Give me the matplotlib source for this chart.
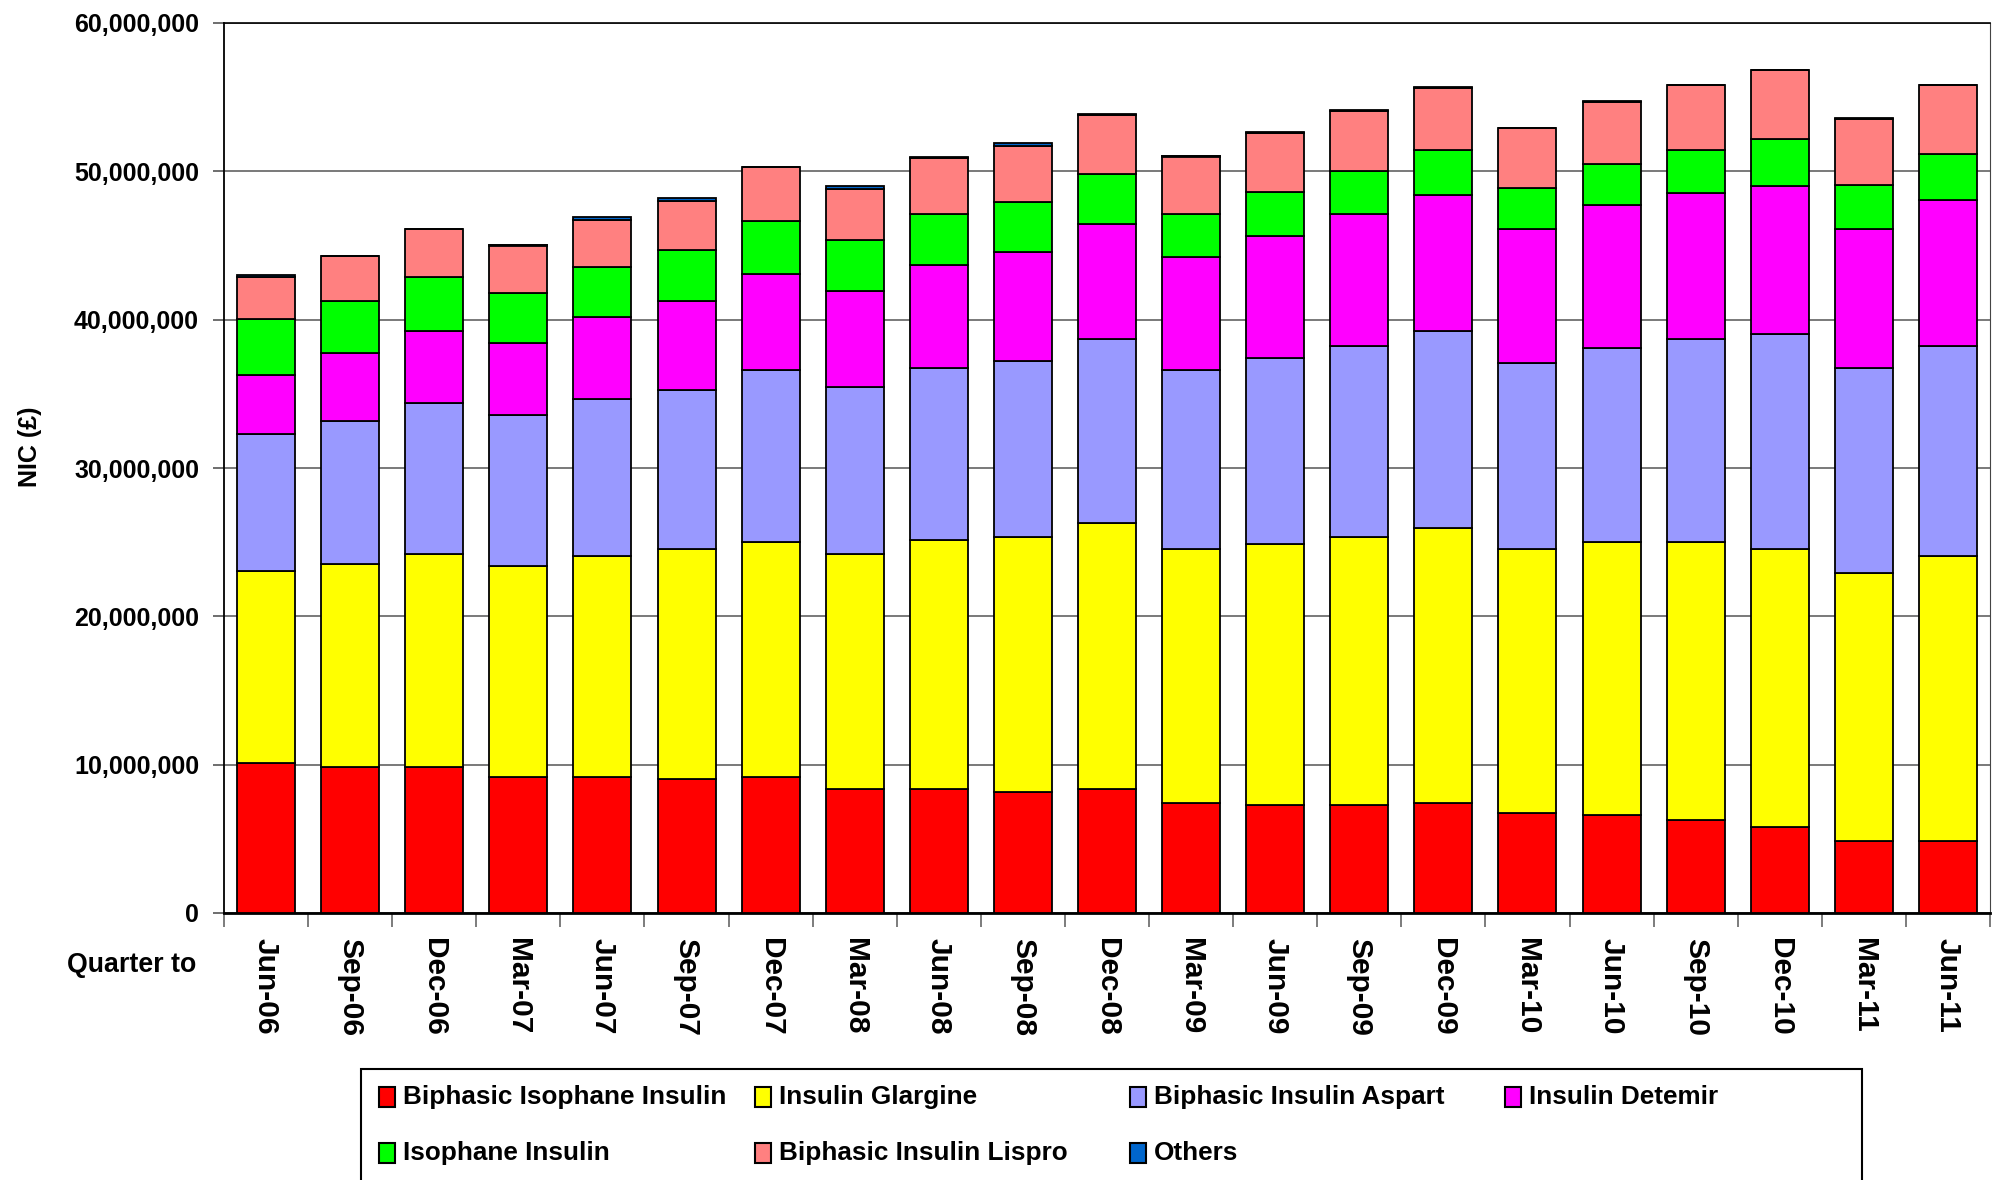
import numpy as np
import matplotlib
matplotlib.use("Agg")
import matplotlib.pyplot as plt
from matplotlib.patches import Rectangle
from matplotlib.ticker import FuncFormatter, FixedLocator

# quarters and spend per product, millions of pounds
quarters = ["Jun-06", "Sep-06", "Dec-06", "Mar-07", "Jun-07", "Sep-07", "Dec-07",
            "Mar-08", "Jun-08", "Sep-08", "Dec-08", "Mar-09", "Jun-09", "Sep-09",
            "Dec-09", "Mar-10", "Jun-10", "Sep-10", "Dec-10", "Mar-11", "Jun-11"]

biphasic_isophane = [10.12, 9.83, 9.83, 9.18, 9.18, 9.02, 9.18, 8.37, 8.37, 8.19, 8.37,
                     7.41, 7.25, 7.25, 7.41, 6.76, 6.60, 6.26, 5.79, 4.83, 4.83]
glargine = [12.95, 13.72, 14.37, 14.21, 14.86, 15.51, 15.83, 15.83, 16.79, 17.15, 17.92,
            17.12, 17.60, 18.09, 18.56, 17.77, 18.41, 18.75, 18.74, 18.09, 19.21]
biphasic_aspart = [9.19, 9.65, 10.17, 10.15, 10.64, 10.76, 11.60, 11.26, 11.61, 11.90, 12.40,
                   12.10, 12.57, 12.91, 13.24, 12.55, 13.06, 13.68, 14.48, 13.85, 14.16]
detemir = [4.03, 4.53, 4.84, 4.86, 5.47, 5.98, 6.46, 6.46, 6.93, 7.29, 7.79,
           7.61, 8.25, 8.86, 9.18, 9.04, 9.66, 9.86, 10.03, 9.35, 9.87]
isophane = [3.73, 3.54, 3.70, 3.37, 3.41, 3.44, 3.57, 3.44, 3.41, 3.38, 3.36,
            2.87, 2.92, 2.93, 3.07, 2.76, 2.76, 2.91, 3.11, 2.94, 3.07]
biphasic_lispro = [2.83, 3.03, 3.19, 3.23, 3.17, 3.32, 3.63, 3.47, 3.81, 3.82, 3.98,
                   3.89, 4.01, 4.06, 4.19, 4.02, 4.21, 4.34, 4.65, 4.49, 4.66]
others = [0.16, 0.02, 0.02, 0.02, 0.16, 0.14, 0.04, 0.16, 0.04, 0.16, 0.04,
          0.02, 0.02, 0.02, 0.02, 0.02, 0.02, 0.02, 0.02, 0.02, 0.02]

series_names = ["Biphasic Isophane Insulin", "Insulin Glargine", "Biphasic Insulin Aspart",
                "Insulin Detemir", "Isophane Insulin", "Biphasic Insulin Lispro", "Others"]
series_vals = [biphasic_isophane, glargine, biphasic_aspart, detemir,
               isophane, biphasic_lispro, others]
colors = ["#FF0000", "#FFFF00", "#9999FF", "#FF00FF", "#00FF00", "#FF8080", "#0066CC"]

plt.rcParams['font.family'] = ['Liberation Sans', 'DejaVu Sans']
plt.rcParams['font.weight'] = 'bold'

fig = plt.figure(figsize=(20, 11.8), dpi=100)
ax = fig.add_axes([224 / 2000, 1 - 913 / 1180, (1990 - 224) / 2000, (913 - 23) / 1180])

x = np.arange(len(quarters))
bottom = np.zeros(len(quarters))
for name, vals, col in zip(series_names, series_vals, colors):
    v = np.array(vals) * 1e6
    ax.bar(x, v, width=0.69, bottom=bottom, color=col, edgecolor="black",
           linewidth=1.3, label=name, zorder=3)
    bottom += v

ax.set_xlim(-0.5, len(quarters) - 0.5)
ax.set_ylim(0, 60e6)
ax.set_yticks(np.arange(0, 60e6 + 1, 10e6))
ax.yaxis.set_major_formatter(FuncFormatter(lambda v, p: "{:,.0f}".format(v)))
ax.tick_params(axis="y", length=8, width=1.2, color="#555555", pad=10, labelsize=18)
for t in ax.get_yticklabels():
    t.set_fontweight("bold")

ax.set_xticks(x)
ax.set_xticklabels(quarters, rotation=270, fontsize=21.5, fontweight="bold",
                   ha="center", va="top")
ax.tick_params(axis="x", which="major", length=0, pad=18)
ax.xaxis.set_minor_locator(FixedLocator(np.arange(-0.5, len(quarters), 1.0)))
ax.tick_params(axis="x", which="minor", length=10, width=1.2, color="#666666")

ax.grid(axis="y", color="#555555", linewidth=1.1, zorder=0)
ax.set_axisbelow(True)
for s in ["top", "left", "bottom"]:
    ax.spines[s].set_color("black")
ax.spines["left"].set_linewidth(1.3)
ax.spines["bottom"].set_linewidth(2.0)
ax.spines["top"].set_linewidth(1.2)
ax.spines["right"].set_color("#444444")

fig.text(30 / 2000, 1 - 447 / 1180, "NIC (£)", rotation=90, fontsize=18,
         fontweight="bold", ha="center", va="center")
fig.text(132 / 2000, 1 - 965 / 1180, "Quarter to", fontsize=19.3,
         fontweight="bold", ha="center", va="center")

# legend drawn by hand so the columns are evenly spaced as in the original
box = Rectangle((361 / 2000, -0.02), (1862 - 361) / 2000, (1180 - 1069) / 1180 + 0.02,
                transform=fig.transFigure, facecolor="white", edgecolor="black",
                linewidth=1.5, clip_on=False)
fig.patches.append(box)
col_x = [379, 755, 1130, 1505]
row_y = [1097, 1153]
for i, (name, col) in enumerate(zip(series_names, colors)):
    cx = col_x[i % 4]
    cy = row_y[i // 4]
    fig.patches.append(Rectangle((cx / 2000, 1 - (cy + 10) / 1180), 16 / 2000, 20 / 1180,
                                 transform=fig.transFigure, facecolor=col,
                                 edgecolor="black", linewidth=1.5))
    fig.text((cx + 24) / 2000, 1 - cy / 1180, name, fontsize=18.8, fontweight="bold",
             ha="left", va="center")

fig.savefig("out.png", dpi=100)
